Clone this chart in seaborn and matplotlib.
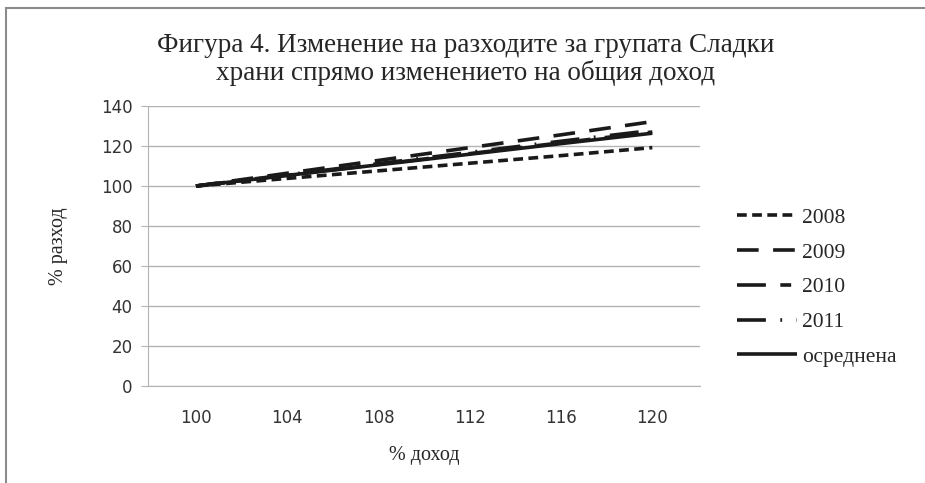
import numpy as np
import pandas as pd
import matplotlib
matplotlib.use("Agg")
import matplotlib.pyplot as plt
import seaborn as sns
from matplotlib.patches import Rectangle

# данни, отчетени от фигурата
income = [100, 104, 108, 112, 116, 120]
y2008 = [100, 103.8, 107.6, 111.4, 115.2, 119.2]
y2009 = [100, 106.4, 112.8, 119.2, 125.6, 132.2]
y2010 = [100, 105.4, 110.8, 116.2, 121.6, 127.0]
y2011 = [100, 105.6, 111.2, 116.8, 122.4, 127.8]
avg = [100, 105.3, 110.6, 115.9, 121.2, 126.4]
labels = ["2008", "2009", "2010", "2011", "осреднена"]

sns.set_style("white")
plt.rcParams["font.family"] = ["Liberation Serif", "DejaVu Serif"]

fig = plt.figure(figsize=(9.25, 4.83), dpi=100)
ax = fig.add_axes([0.16, 0.2008, 0.597, 0.5797])

series = [y2008, y2009, y2010, y2011, avg]
dashes = [(2.7, 1.5), (6, 4), (8, 4, 3, 4), (8, 4, 0.5, 4), ()]
for vals, lab, d in zip(series, labels, dashes):
    sns.lineplot(x=income, y=vals, ax=ax, color="#1a1a1a", linewidth=2.6, label=lab)
    if d:
        ax.lines[-1].set_dashes(d)
    ax.lines[-1].set_solid_capstyle("butt")
    ax.lines[-1].set_dash_capstyle("butt")

ax.set_xlim(97.9, 122.1)
ax.set_ylim(0, 140)
ax.set_yticks(range(0, 141, 20))
ax.set_xticks(income)
ax.grid(axis="y", color="#b3b3b3", linewidth=1)
for s in ["top", "right"]:
    ax.spines[s].set_visible(False)
ax.spines["left"].set_color("#b3b3b3")
ax.spines["bottom"].set_color("#b3b3b3")
ax.tick_params(axis="y", left=True, length=5, color="#b3b3b3", labelsize=12,
               labelcolor="#333333", pad=6)
ax.tick_params(axis="x", bottom=False, labelsize=12, labelcolor="#333333", pad=13)
for t in ax.get_xticklabels() + ax.get_yticklabels():
    t.set_fontfamily(["DejaVu Sans"])

ax.set_xlabel("% доход", fontsize=14.5, labelpad=14)
ax.set_ylabel("% разход", fontsize=14.5, labelpad=24)

fig.text(0.503, 0.905, "Фигура 4. Изменение на разходите за групата Сладки",
         ha="center", va="center", fontsize=19.5)
fig.text(0.503, 0.848, "храни спрямо изменението на общия доход",
         ha="center", va="center", fontsize=19.5)

ax.get_legend().remove()
handles = ax.lines[:5]
fig.legend(handles, labels, loc="center left", bbox_to_anchor=(0.776, 0.405),
           frameon=False, fontsize=15.5, handlelength=2.8, handletextpad=0.22,
           labelspacing=0.68)

fig.add_artist(Rectangle((0.006, -0.02), 1.2, 1.003, transform=fig.transFigure,
                         fill=False, edgecolor="#8c8c8c", linewidth=1.5))

fig.savefig("out.png", dpi=100)
